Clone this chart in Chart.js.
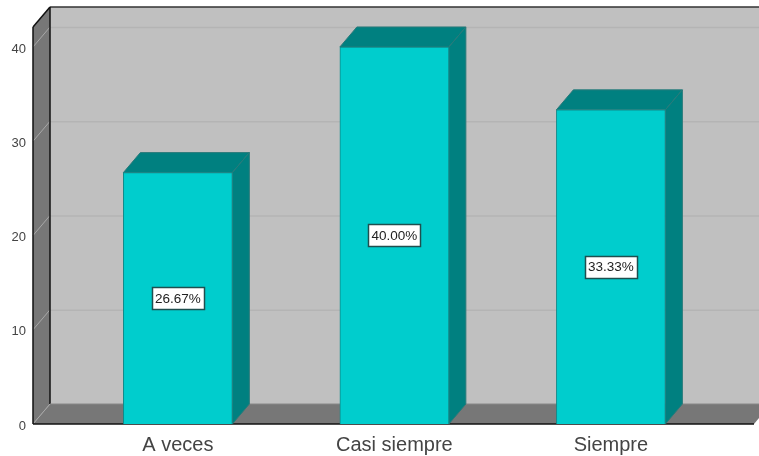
<!DOCTYPE html>
<html>
<head>
<meta charset="utf-8">
<style>html,body{margin:0;padding:0;background:#fff}canvas{display:block}</style>
<script src="https://cdn.jsdelivr.net/npm/chart.js@4/dist/chart.umd.min.js"></script>
</head>
<body>
<canvas id="c" width="759" height="456"></canvas>
<script>
const categories = ['A veces', 'Casi siempre', 'Siempre'];
const counts = [26.67, 40, 33.33];
const percentLabels = ['26.67%', '40.00%', '33.33%'];
const yTickStep = 10;
const yAxisMax = 42.12;

const DEPTH_X = 17, DEPTH_Y = 20;
const FONT = '"Liberation Sans", Arial, sans-serif';

function poly(ctx, pts, fill, stroke) {
  ctx.beginPath();
  pts.forEach((p, i) => i ? ctx.lineTo(p[0], p[1]) : ctx.moveTo(p[0], p[1]));
  ctx.closePath();
  if (fill) { ctx.fillStyle = fill; ctx.fill(); }
  if (stroke) { ctx.strokeStyle = stroke; ctx.lineWidth = 1; ctx.stroke(); }
}
function line(ctx, x1, y1, x2, y2, color, w) {
  ctx.beginPath(); ctx.moveTo(x1, y1); ctx.lineTo(x2, y2);
  ctx.strokeStyle = color; ctx.lineWidth = w; ctx.stroke();
}

const box3d = {
  id: 'box3d',
  beforeDraw(chart) {
    const { ctx, chartArea: a, scales: { y } } = chart;
    const dx = DEPTH_X, dy = DEPTH_Y;
    ctx.save();
    // back wall
    poly(ctx, [[a.left + dx, a.top - dy], [a.right + dx, a.top - dy], [a.right + dx, a.bottom - dy], [a.left + dx, a.bottom - dy]], '#c0c0c0');
    // left wall
    poly(ctx, [[a.left, a.top], [a.left + dx, a.top - dy], [a.left + dx, a.bottom - dy], [a.left, a.bottom]], '#777777');
    // floor
    poly(ctx, [[a.left, a.bottom], [a.left + dx, a.bottom - dy], [a.right + dx, a.bottom - dy], [a.right, a.bottom]], '#777777');
    // grid lines
    y.ticks.forEach(t => {
      const py = y.getPixelForValue(t.value);
      if (t.value > 0) line(ctx, a.left + dx, py - dy + 0.5, a.right + dx, py - dy + 0.5, '#b4b4b4', 1.5);
      line(ctx, a.left, py, a.left + dx, py - dy, '#a8a8a8', 1);
    });
    // frame
    line(ctx, a.left + dx, a.top - dy, a.right + dx, a.top - dy, '#333333', 1.5);
    line(ctx, a.left + dx, a.top - dy, a.left + dx, a.bottom - dy, '#111111', 1.5);
    line(ctx, a.left, a.top, a.left + dx, a.top - dy, '#111111', 1.5);
    line(ctx, a.left, a.top, a.left, a.bottom, '#111111', 1.5);
    line(ctx, a.left, a.bottom, a.right, a.bottom, '#111111', 1.5);
    line(ctx, a.left + dx, a.bottom - dy, a.right + dx, a.bottom - dy, '#888888', 1);
    ctx.restore();
  },
  beforeDatasetsDraw(chart) {
    const { ctx } = chart;
    const dx = DEPTH_X, dy = DEPTH_Y;
    ctx.save();
    chart.getDatasetMeta(0).data.forEach(el => {
      const p = el.getProps(['x', 'y', 'base', 'width'], true);
      const l = p.x - p.width / 2, r = p.x + p.width / 2;
      poly(ctx, [[l, p.y], [l + dx, p.y - dy], [r + dx, p.y - dy], [r, p.y]], '#008080', '#2a7a7a');
      poly(ctx, [[r, p.y], [r + dx, p.y - dy], [r + dx, p.base - dy], [r, p.base]], '#008080', '#2a7a7a');
    });
    ctx.restore();
  },
  afterDatasetsDraw(chart) {
    const { ctx, scales: { y } } = chart;
    ctx.save();
    ctx.font = '13.5px ' + FONT;
    ctx.textAlign = 'center';
    ctx.textBaseline = 'middle';
    chart.getDatasetMeta(0).data.forEach((el, i) => {
      const p = el.getProps(['x'], true);
      const cy = y.getPixelForValue(counts[i] / 2);
      const w = 52, h = 22;
      const bx = Math.round(p.x - w / 2) + 0.5, by = Math.round(cy - h / 2) + 0.5;
      ctx.fillStyle = '#ffffff';
      ctx.fillRect(bx, by, w, h);
      ctx.strokeStyle = '#1f4f4f';
      ctx.lineWidth = 1.5;
      ctx.strokeRect(bx, by, w, h);
      ctx.fillStyle = '#222222';
      ctx.fillText(percentLabels[i], p.x, cy + 0.5);
    });
    ctx.restore();
  }
};

new Chart(document.getElementById('c'), {
  type: 'bar',
  data: {
    datasets: [{
      data: counts.map((v, i) => ({ x: i, y: v })),
      backgroundColor: '#00cdcd',
      borderColor: '#0f8a8a',
      borderWidth: 1,
      barThickness: 109
    }]
  },
  options: {
    responsive: false,
    animation: false,
    devicePixelRatio: 1,
    layout: { padding: { top: 27, right: 5, left: 0, bottom: 0 } },
    plugins: { legend: { display: false }, title: { display: false }, tooltip: { enabled: false } },
    scales: {
      x: {
        type: 'linear',
        offset: false,
        min: -0.669,
        max: 2.661,
        grid: { display: false, offset: false, tickLength: 0 },
        border: { display: false },
        afterBuildTicks(s) { s.ticks = categories.map((_, i) => ({ value: i })); },
        afterFit(s) { s.height = 32; },
        ticks: {
          autoSkip: false, maxRotation: 0, padding: 9,
          color: '#444444',
          font: { family: FONT, size: 20 },
          callback: v => categories[v]
        }
      },
      y: {
        min: 0,
        max: yAxisMax,
        grid: { display: false, tickLength: 0 },
        border: { display: false },
        afterFit(s) { s.width = 33; },
        ticks: {
          stepSize: yTickStep,
          includeBounds: false,
          padding: 7,
          labelOffset: 2,
          color: '#444444',
          font: { family: FONT, size: 13 }
        }
      }
    }
  },
  plugins: [box3d]
});
</script>
</body>
</html>
